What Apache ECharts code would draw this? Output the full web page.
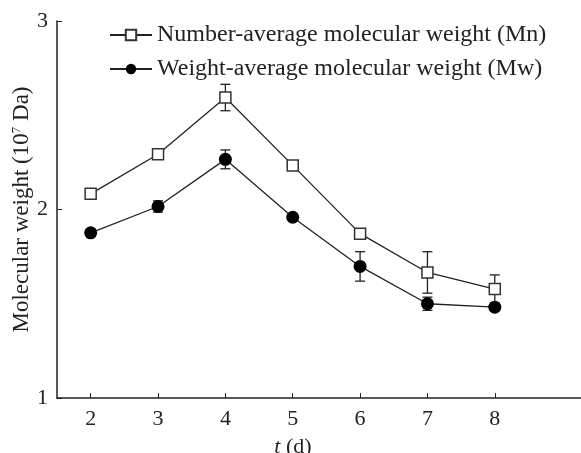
<!DOCTYPE html>
<html>
<head>
<meta charset="utf-8">
<script src="https://cdn.jsdelivr.net/npm/echarts@6/dist/echarts.min.js"></script>
<style>
  html, body { margin: 0; padding: 0; background: #fff; }
  #chart { width: 581px; height: 453px; }
</style>
</head>
<body>
<div id="chart"></div>
<script>
// days of culture
const days = [2, 3, 4, 5, 6, 7, 8];
// number-average molecular weight (10^7 Da) and its error
const mnValues = [2.083, 2.293, 2.594, 2.234, 1.872, 1.666, 1.578];
const mnErrors = [0.01, 0.01, 0.07, 0.01, 0.01, 0.11, 0.075];
// weight-average molecular weight (10^7 Da) and its error
const mwValues = [1.876, 2.016, 2.266, 1.959, 1.698, 1.5, 1.482];
const mwErrors = [0.005, 0.03, 0.05, 0.005, 0.078, 0.035, 0.01];

const FONT = "'Liberation Serif', 'DejaVu Serif', serif";
const INK = "#222";

function pairs(vals) {
  return days.map((d, i) => [d, vals[i]]);
}
function errData(vals, errs) {
  return days.map((d, i) => [d, vals[i] - errs[i], vals[i] + errs[i]]);
}

// error bars: vertical stem plus two caps
function renderErr(params, api) {
  const x = api.value(0);
  const lo = api.coord([x, api.value(1)]);
  const hi = api.coord([x, api.value(2)]);
  const w = 5;
  const style = { stroke: INK, lineWidth: 1.3, fill: null };
  return {
    type: "group",
    children: [
      { type: "line", shape: { x1: lo[0], y1: lo[1], x2: hi[0], y2: hi[1] }, style: style },
      { type: "line", shape: { x1: hi[0] - w, y1: hi[1], x2: hi[0] + w, y2: hi[1] }, style: style },
      { type: "line", shape: { x1: lo[0] - w, y1: lo[1], x2: lo[0] + w, y2: lo[1] }, style: style }
    ]
  };
}

const chart = echarts.init(document.getElementById("chart"));
chart.setOption({
  animation: false,
  backgroundColor: "#fff",
  textStyle: { fontFamily: FONT, color: INK },
  grid: { left: 57, right: 0, top: 21, bottom: 55, outerBoundsMode: "none", containLabel: false },
  legend: {
    orient: "vertical",
    left: 104,
    top: 18,
    itemWidth: 42,
    itemHeight: 13,
    itemGap: 10,
    textStyle: { fontFamily: FONT, fontSize: 24, color: INK },
    data: ["Number-average molecular weight (Mn)", "Weight-average molecular weight (Mw)"]
  },
  xAxis: {
    type: "value",
    min: 1.5,
    max: 9.28,
    name: "{i|t} (d)",
    nameLocation: "middle",
    nameGap: 38,
    nameTextStyle: {
      fontFamily: FONT,
      fontSize: 22,
      color: INK,
      padding: [0, 52, 0, 0],
      rich: {
        i: { fontFamily: FONT, fontSize: 22, fontStyle: "italic", color: INK }
      }
    },
    axisLine: { lineStyle: { color: INK, width: 1.5 } },
    axisTick: { inside: true, length: 5, customValues: days, lineStyle: { color: INK } },
    axisLabel: { customValues: days, fontFamily: FONT, fontSize: 22, color: INK, margin: 10 },
    splitLine: { show: false }
  },
  yAxis: {
    type: "value",
    min: 1,
    max: 3,
    interval: 1,
    name: "Molecular weight (10{s|7} Da)",
    nameLocation: "middle",
    nameGap: 24,
    nameMoveOverlap: false,
    nameTextStyle: {
      fontFamily: FONT,
      fontSize: 23,
      color: INK,
      rich: {
        s: { fontFamily: FONT, fontSize: 13, verticalAlign: "top", padding: [0, 0, 8, 0] }
      }
    },
    axisLine: { show: true, lineStyle: { color: INK, width: 1.5 } },
    axisTick: { show: true, inside: true, length: 5, lineStyle: { color: INK } },
    axisLabel: { fontFamily: FONT, fontSize: 22, color: INK, margin: 9 },
    splitLine: { show: false }
  },
  series: [
    {
      type: "custom",
      renderItem: renderErr,
      data: errData(mnValues, mnErrors),
      z: 1,
      silent: true
    },
    {
      type: "custom",
      renderItem: renderErr,
      data: errData(mwValues, mwErrors),
      z: 1,
      silent: true
    },
    {
      name: "Number-average molecular weight (Mn)",
      type: "line",
      data: pairs(mnValues),
      symbol: "rect",
      symbolSize: 11,
      z: 3,
      lineStyle: { color: INK, width: 1.3 },
      itemStyle: { color: "#fff", borderColor: "#333", borderWidth: 1.5 }
    },
    {
      name: "Weight-average molecular weight (Mw)",
      type: "line",
      data: pairs(mwValues),
      symbol: "circle",
      symbolSize: 13,
      z: 3,
      lineStyle: { color: INK, width: 1.3 },
      itemStyle: { color: "#000", borderColor: "#000", borderWidth: 0 }
    }
  ]
});
</script>
</body>
</html>
